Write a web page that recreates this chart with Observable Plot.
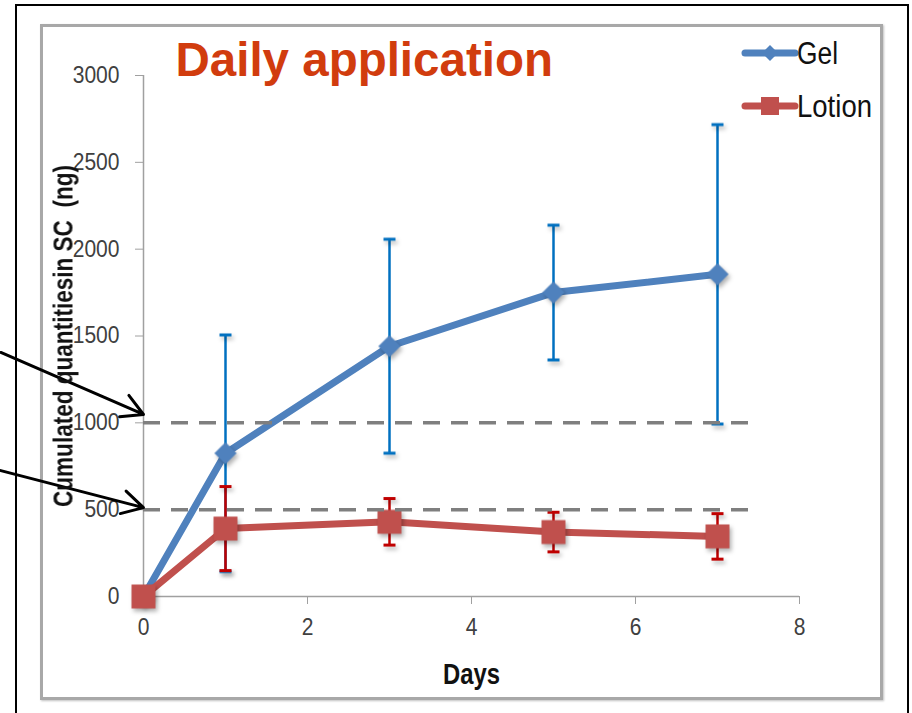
<!DOCTYPE html>
<html>
<head>
<meta charset="utf-8">
<script src="https://cdn.jsdelivr.net/npm/d3@7"></script>
<script src="https://cdn.jsdelivr.net/npm/@observablehq/plot@0.6"></script>
<style>
  html, body { margin: 0; padding: 0; background: #fff; }
  #wrap { position: relative; width: 912px; height: 713px; overflow: hidden; background: #fff; }
  #outer { position: absolute; left: 15px; top: 4px; width: 890px; height: 760px; border: 2.5px solid #000; border-bottom: none; box-sizing: content-box; }
  #inner { position: absolute; left: 40px; top: 24px; width: 837px; height: 670px; border: 3px solid #a8a8a8; box-shadow: 1px 1px 2px rgba(0,0,0,0.25); }
  #chart { position: absolute; left: 0; top: 0; }
  #legend { position: absolute; left: 740px; top: 30px; }
</style>
</head>
<body>
<div id="wrap">
  <div id="outer"></div>
  <div id="inner"></div>
  <div id="chart"></div>
  <svg id="legend" width="160" height="100" style="font-family: 'Liberation Sans', Arial, sans-serif"></svg>
</div>
<script>
// ---- data ----
const days = [0, 1, 3, 5, 7];
const gelMean = [0, 825, 1441, 1750, 1855];
const gelSD = [0, 681, 616, 388, 862];
const lotionMean = [0, 391, 430, 371, 346];
const lotionSD = [0, 242, 134, 114, 131];
const seriesNames = ["Gel", "Lotion"];
const refLevels = [500, 1000];
const refLineEnd = 7.4;
const xTicks = [0, 2, 4, 6, 8];
const yTicks = [0, 500, 1000, 1500, 2000, 2500, 3000];
const arrowStartX = [-1.74, -1.74];
const arrowStartY = [1405, 725];
const arrowEndX = [0, 0];
const arrowEndY = [1048, 512];
const titleText = "Daily application";
const xLabel = "Days";
const yLabel = "Cumulated quantitiesin SC  (ng)";

// ---- build tables ----
const gel = days.map((d, i) => ({day: d, mean: gelMean[i], sd: gelSD[i]}));
const lotion = days.map((d, i) => ({day: d, mean: lotionMean[i], sd: lotionSD[i]}));
const arrows = arrowStartX.map((x, i) => ({x1: x, y1: arrowStartY[i], x2: arrowEndX[i], y2: arrowEndY[i]}));
const gelErr = gel.filter(d => d.sd > 0);
const lotErr = lotion.filter(d => d.sd > 0);

const C = {gelLine: "#4f81bd", gelErr: "#0070c0", lotLine: "#c0504d", lotErr: "#c00000"};
const capSymbol = { draw(ctx) { ctx.moveTo(-6, 0); ctx.lineTo(6, 0); } };
const FONT = "'Liberation Sans', Arial, sans-serif";
const Y_LABEL_LEN = 342, X_LABEL_LEN = 57;

const plot = Plot.plot({
  width: 912,
  height: 713,
  marginLeft: 143,
  marginRight: 113,
  marginTop: 75,
  marginBottom: 117,
  style: {fontFamily: FONT, background: "transparent", overflow: "visible"},
  x: {domain: [0, 8]},
  y: {domain: [0, 3000]},
  marks: [
    Plot.axisY({ticks: yTicks, tickFormat: d => String(d), tickSize: 8, tickPadding: 16, fontSize: 23, color: "#404040", stroke: "#a0a0a0", label: null}),
    Plot.axisX({ticks: xTicks, tickFormat: d => String(d), tickSize: 8, tickPadding: 14, fontSize: 23, color: "#404040", stroke: "#a0a0a0", label: null}),
    Plot.ruleX([0], {stroke: "#a0a0a0", strokeWidth: 1.5}),
    Plot.ruleY([0], {stroke: "#a0a0a0", strokeWidth: 1.5}),
    // error bars
    Plot.ruleX(gelErr, {x: "day", y1: d => d.mean - d.sd, y2: d => d.mean + d.sd, stroke: C.gelErr, strokeWidth: 2.5}),
    Plot.dot(gelErr, {x: "day", y: d => d.mean + d.sd, symbol: capSymbol, fill: "none", stroke: C.gelErr, strokeWidth: 3}),
    Plot.dot(gelErr, {x: "day", y: d => d.mean - d.sd, symbol: capSymbol, fill: "none", stroke: C.gelErr, strokeWidth: 3}),
    Plot.ruleX(lotErr, {x: "day", y1: d => d.mean - d.sd, y2: d => d.mean + d.sd, stroke: C.lotErr, strokeWidth: 2.5}),
    Plot.dot(lotErr, {x: "day", y: d => d.mean + d.sd, symbol: capSymbol, fill: "none", stroke: C.lotErr, strokeWidth: 3}),
    Plot.dot(lotErr, {x: "day", y: d => d.mean - d.sd, symbol: capSymbol, fill: "none", stroke: C.lotErr, strokeWidth: 3}),
    // series
    Plot.line(gel, {x: "day", y: "mean", stroke: C.gelLine, strokeWidth: 7, strokeLinejoin: "round", strokeLinecap: "round"}),
    Plot.dot(gel, {x: "day", y: "mean", symbol: "diamond2", r: 10, fill: C.gelLine, stroke: "none"}),
    Plot.line(lotion, {x: "day", y: "mean", stroke: C.lotLine, strokeWidth: 7, strokeLinejoin: "round", strokeLinecap: "round"}),
    Plot.dot(lotion, {x: "day", y: "mean", symbol: "square", r: 13.5, fill: C.lotLine, stroke: "none"}),
    // reference dashed lines
    Plot.ruleY(refLevels, {x1: 0, x2: refLineEnd, stroke: "#7f7f7f", strokeWidth: 3.5, strokeDasharray: "17,11"}),
    // arrows
    Plot.arrow(arrows, {x1: "x1", y1: "y1", x2: "x2", y2: "y2", stroke: "#000", strokeWidth: 3, headLength: 12, headAngle: 58}),
    // texts
    Plot.text([titleText], {frameAnchor: "top-left", dx: 32, dy: 0, lineAnchor: "bottom", textAnchor: "start", fontSize: 47.5, fontWeight: "bold", fill: "#d13c0e"}),
    Plot.text([xLabel], {frameAnchor: "bottom", dx: -X_LABEL_LEN / 2, dy: 87, lineAnchor: "bottom", textAnchor: "start", fontSize: 29, fontWeight: "bold", fill: "#111"}),
    Plot.text([yLabel], {frameAnchor: "left", dx: -71, dy: Y_LABEL_LEN / 2, rotate: -90, lineAnchor: "bottom", textAnchor: "start", fontSize: 27, fontWeight: "bold", fill: "#111"})
  ]
});
document.getElementById("chart").appendChild(plot);

// condensed look (the original uses a narrow font)
function fit(sel, w) { sel.attr("textLength", w).attr("lengthAdjust", "spacingAndGlyphs"); }
d3.select(plot).selectAll('g[aria-label="y-axis tick label"] text, g[aria-label="x-axis tick label"] text')
  .each(function() { const t = d3.select(this); fit(t, t.text().length * 11.7); });
d3.select(plot).selectAll("text").each(function() {
  const t = d3.select(this);
  if (t.text() === yLabel) fit(t, Y_LABEL_LEN);
  if (t.text() === xLabel) fit(t, X_LABEL_LEN);
});

// marker shadows
d3.select(plot).selectAll('g[aria-label="dot"]').filter(function() {
  return d3.select(this).select("path").attr("fill") !== "none";
}).style("filter", "drop-shadow(2px 3px 2px rgba(0,0,0,0.3))");

// ---- legend ----
const lg = d3.select("#legend");
const legendItems = [
  {name: seriesNames[0], color: C.gelLine, symbol: d3.symbolDiamond2, side: 8 / 0.62625, y: 23, ty: 34, w: 41},
  {name: seriesNames[1], color: C.lotLine, symbol: d3.symbolSquare, side: 18, y: 76, ty: 87, w: 75}
];
legendItems.forEach(it => {
  lg.append("line").attr("x1", 5).attr("x2", 55).attr("y1", it.y).attr("y2", it.y)
    .attr("stroke", it.color).attr("stroke-width", 7).attr("stroke-linecap", "round");
  lg.append("path").attr("d", d3.symbol(it.symbol, it.side * it.side)()).attr("transform", `translate(30,${it.y})`).attr("fill", it.color);
  const t = lg.append("text").attr("x", 57).attr("y", it.ty).attr("font-size", 31).attr("fill", "#111").text(it.name);
  fit(t, it.w);
});
</script>
</body>
</html>
